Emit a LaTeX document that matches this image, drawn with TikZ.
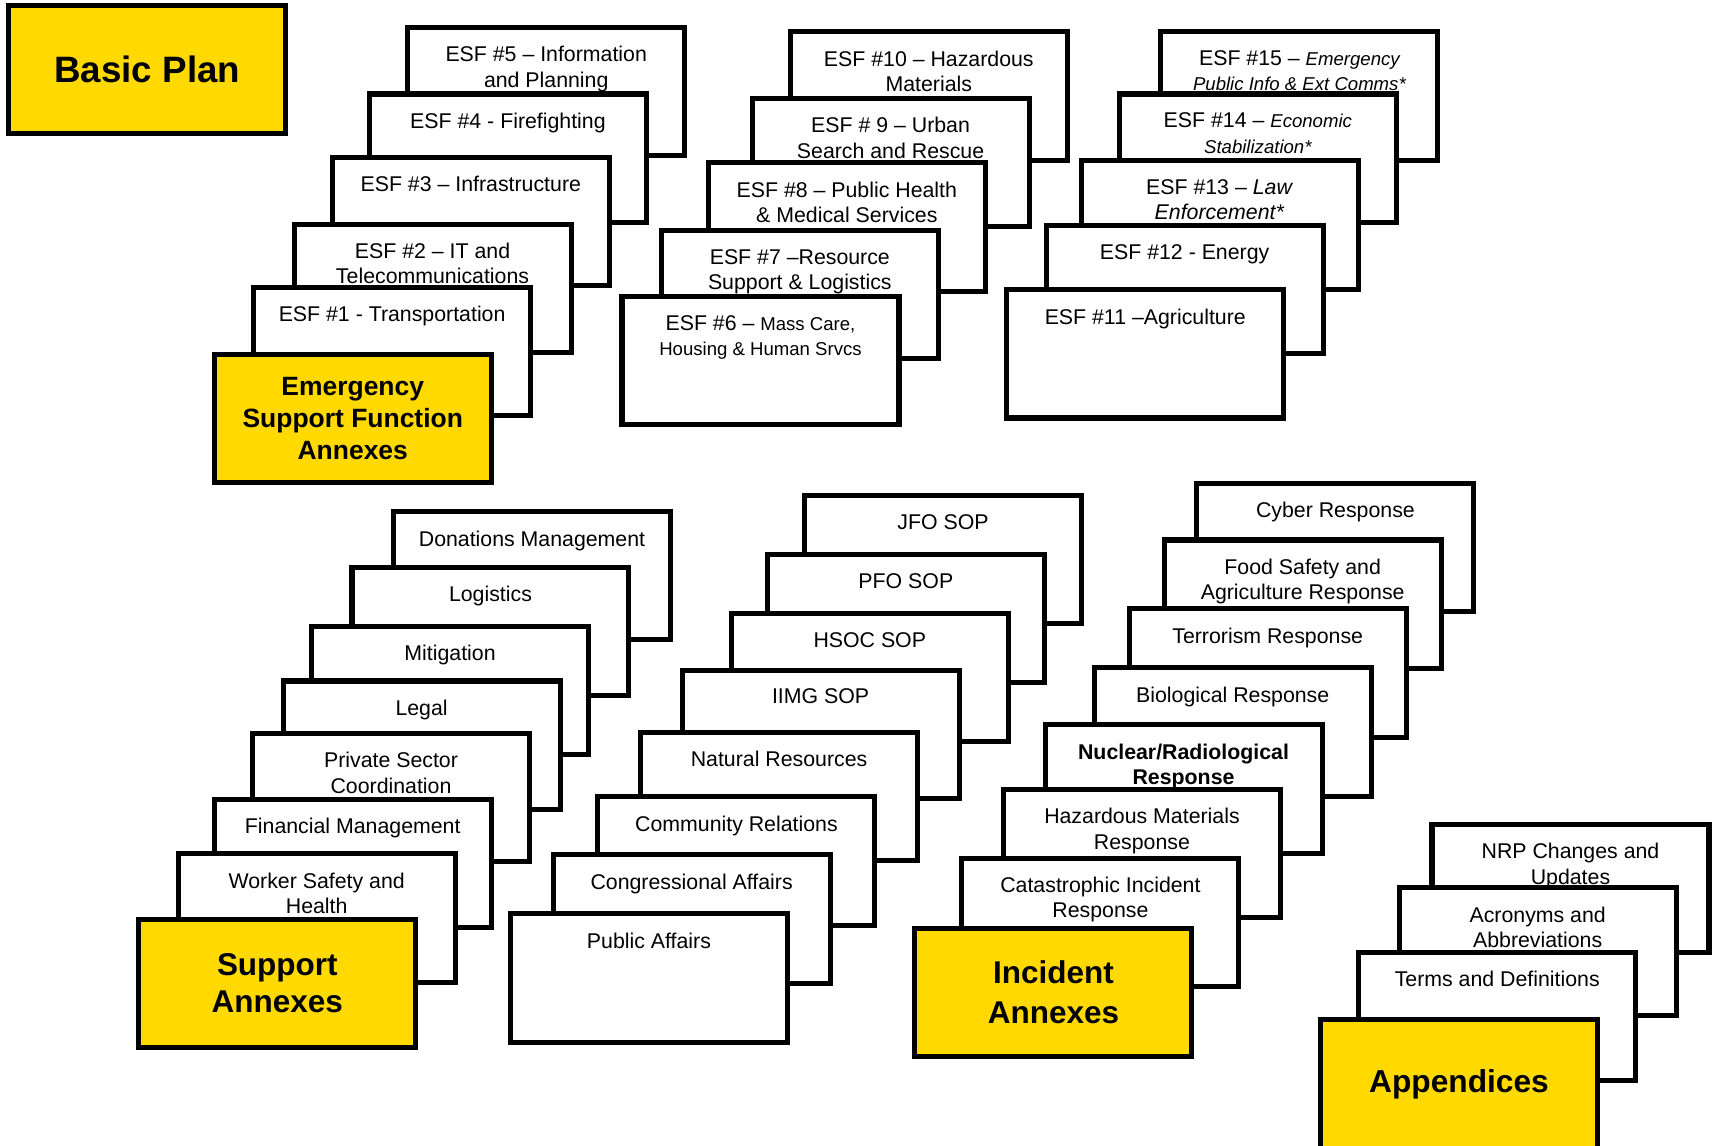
\documentclass[tikz,border=0pt]{standalone}
\usepackage{fontspec}
\setmainfont{Liberation Sans}
\definecolor{annexyellow}{RGB}{255,217,0}
\newcommand{\smallesf}{\fontsize{8.5}{10.4}\selectfont}

\begin{document}
\begin{tikzpicture}
  [x=0.5pt, y=-0.5pt,
   font=\fontsize{9.75}{11.6}\selectfont,
   card/.style={draw, fill=white, line width=2.3pt, inner sep=0pt, outer sep=0pt,
                minimum width=126.7pt, minimum height=58.7pt, anchor=north west},
   cardtext/.style={anchor=north, align=center, inner sep=0pt, yshift=-8.5pt},
   annex/.style={card, fill=annexyellow, align=center}
  ]
  \useasboundingbox (0,0) rectangle (1568,1048);

  \node[annex, font=\bfseries\fontsize{16.8}{20}\selectfont] (basic) at (8,5) {Basic Plan};

  % ESF 1-5
  \node[card, label={[cardtext]north:{ESF \#5 – Information\\and Planning}}] (esf5) at (373,25) {};
  \node[card, label={[cardtext]north:{ESF \#4 - Firefighting}}]              (esf4) at (338,86) {};
  \node[card, label={[cardtext]north:{ESF \#3 – Infrastructure}}]            (esf3) at (304,144) {};
  \node[card, label={[cardtext]north:{ESF \#2 – IT and\\Telecommunications}}] (esf2) at (269,205) {};
  \node[card, label={[cardtext]north:{ESF \#1 - Transportation}}]            (esf1) at (232,263) {};
  \node[annex, font=\bfseries\fontsize{12.1}{14.5}\selectfont] (esfannex) at (196,324)
       {Emergency\\Support Function\\Annexes};

  % ESF 6-10
  \node[card, label={[cardtext]north:{ESF \#10 – Hazardous\\Materials}}]        (esf10) at (723,29) {};
  \node[card, label={[cardtext]north:{ESF \# 9 – Urban\\Search and Rescue}}]    (esf9)  at (688,90) {};
  \node[card, label={[cardtext]north:{ESF \#8 – Public Health\\\& Medical Services}}] (esf8) at (648,149) {};
  \node[card, label={[cardtext]north:{ESF \#7 –Resource\\Support \& Logistics}}] (esf7) at (605,211) {};
  \node[card, label={[cardtext]north:{ESF \#6 – {\smallesf Mass Care,}\\{\smallesf Housing \& Human Srvcs}}}] (esf6) at (569,271) {};

  % ESF 11-15
  \node[card, label={[cardtext]north:{ESF \#15 – {\smallesf\itshape Emergency}\\{\smallesf\itshape Public Info \& Ext Comms*}}}] (esf15) at (1062,29) {};
  \node[card, label={[cardtext]north:{ESF \#14 – {\smallesf\itshape Economic}\\{\smallesf\itshape Stabilization*}}}] (esf14) at (1024,86) {};
  \node[card, label={[cardtext]north:{ESF \#13 – \textit{Law}\\\textit{Enforcement*}}}] (esf13) at (989,147) {};
  \node[card, label={[cardtext]north:{ESF \#12 - Energy}}]      (esf12) at (957,206) {};
  \node[card, label={[cardtext]north:{ESF \#11 –Agriculture}}]  (esf11) at (921,265) {};

  % support annexes
  \node[card, label={[cardtext]north:{Donations Management}}]          (donations)  at (360,468) {};
  \node[card, label={[cardtext]north:{Logistics}}]                     (logistics)  at (322,519) {};
  \node[card, label={[cardtext]north:{Mitigation}}]                    (mitigation) at (285,573) {};
  \node[card, label={[cardtext]north:{Legal}}]                         (legal)      at (259,623) {};
  \node[card, label={[cardtext]north:{Private Sector\\Coordination}}]  (privsector) at (231,671) {};
  \node[card, label={[cardtext]north:{Financial Management}}]          (financial)  at (196,731) {};
  \node[card, label={[cardtext]north:{Worker Safety and\\Health}}]     (worker)     at (163,781) {};
  \node[annex, font=\bfseries\fontsize{14.4}{17}\selectfont] (support) at (127,841) {Support\\Annexes};

  % SOPs and others
  \node[card, label={[cardtext]north:{JFO SOP}}]               (jfo)        at (736,453) {};
  \node[card, label={[cardtext]north:{PFO SOP}}]               (pfo)        at (702,507) {};
  \node[card, label={[cardtext]north:{HSOC SOP}}]              (hsoc)       at (669,561) {};
  \node[card, label={[cardtext]north:{IIMG SOP}}]              (iimg)       at (624,613) {};
  \node[card, label={[cardtext]north:{Natural Resources}}]     (natres)     at (586,670) {};
  \node[card, label={[cardtext]north:{Community Relations}}]   (community)  at (547,729) {};
  \node[card, label={[cardtext]north:{Congressional Affairs}}] (congress)   at (506,782) {};
  \node[card, label={[cardtext]north:{Public Affairs}}]        (pubaffairs) at (467,836) {};

  % incident annexes
  \node[card, label={[cardtext]north:{Cyber Response}}]                          (cyber)   at (1095,442) {};
  \node[card, label={[cardtext]north:{Food Safety and\\Agriculture Response}}]   (food)    at (1065,494) {};
  \node[card, label={[cardtext]north:{Terrorism Response}}]                      (terror)  at (1033,557) {};
  \node[card, label={[cardtext]north:{Biological Response}}]                     (bio)     at (1001,611) {};
  \node[card, label={[cardtext, font=\bfseries\fontsize{9.75}{11.6}\selectfont]north:{Nuclear/Radiological\\Response}}] (nuclear) at (956,663) {};
  \node[card, label={[cardtext]north:{Hazardous Materials\\Response}}]           (hazmat)  at (918,722) {};
  \node[card, label={[cardtext]north:{Catastrophic Incident\\Response}}]         (catastr) at (880,785) {};
  \node[annex, font=\bfseries\fontsize{14.4}{18}\selectfont] (incident) at (837,849) {Incident\\Annexes};

  % appendices
  \node[card, label={[cardtext]north:{NRP Changes and\\Updates}}]      (nrp)      at (1310,754) {};
  \node[card, label={[cardtext]north:{Acronyms and\\Abbreviations}}]   (acronyms) at (1280,812) {};
  \node[card, label={[cardtext]north:{Terms and Definitions}}]         (terms)    at (1243,871) {};
  \node[annex, font=\bfseries\fontsize{14.5}{17}\selectfont] (appendices) at (1208,933) {Appendices};
\end{tikzpicture}
\end{document}
